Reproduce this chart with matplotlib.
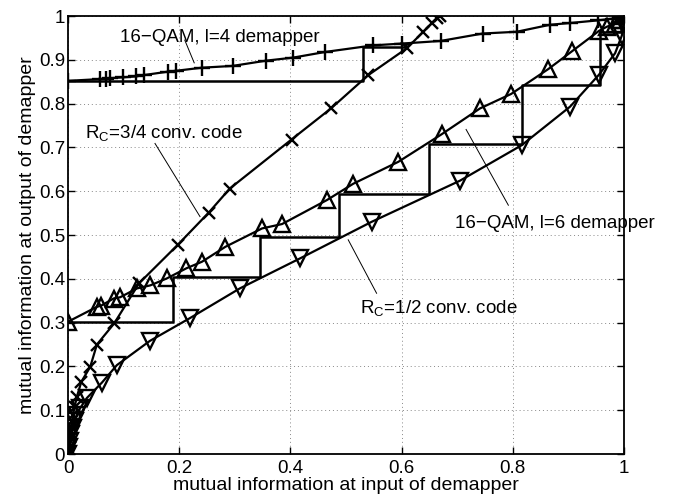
import matplotlib
matplotlib.use("Agg")
import matplotlib.pyplot as plt

plt.rcParams['font.family'] = ['Liberation Sans', 'DejaVu Sans']
plt.rcParams['mathtext.fontset'] = 'custom'
plt.rcParams['mathtext.rm'] = 'Liberation Sans'

# 16-QAM, l=4 demapper (+)
l4_x = [0, 0.058, 0.068, 0.076, 0.099, 0.122, 0.136, 0.180, 0.195, 0.241, 0.296,
        0.356, 0.405, 0.463, 0.549, 0.600, 0.670, 0.746, 0.807, 0.867, 0.903,
        0.953, 0.980, 0.993, 1.0]
l4_y = [0.852, 0.856, 0.857, 0.858, 0.860, 0.862, 0.865, 0.873, 0.875, 0.882, 0.886,
        0.898, 0.905, 0.918, 0.933, 0.937, 0.943, 0.960, 0.964, 0.980, 0.984,
        0.990, 0.994, 0.997, 1.0]

# R_C=3/4 conv. code (x), axes swapped
c34_x = [0, 0.001, 0.002, 0.003, 0.004, 0.005, 0.007, 0.009, 0.012, 0.016, 0.024,
         0.040, 0.052, 0.083, 0.128, 0.197, 0.253, 0.291, 0.402, 0.473, 0.540,
         0.609, 0.639, 0.654, 0.664, 0.669]
c34_y = [0, 0.012, 0.025, 0.038, 0.050, 0.062, 0.075, 0.090, 0.108, 0.131, 0.165,
         0.199, 0.250, 0.298, 0.390, 0.477, 0.551, 0.606, 0.718, 0.789, 0.865,
         0.926, 0.964, 0.983, 0.995, 1.0]

# 16-QAM, l=6 demapper (triangle up)
l6_x = [0, 0.052, 0.060, 0.082, 0.094, 0.124, 0.148, 0.178, 0.213, 0.241, 0.283,
        0.349, 0.385, 0.466, 0.513, 0.594, 0.672, 0.741, 0.797, 0.864, 0.907,
        0.955, 0.970, 0.984, 0.993, 1.0]
l6_y = [0.302, 0.336, 0.339, 0.355, 0.358, 0.378, 0.385, 0.401, 0.424, 0.439, 0.473,
        0.515, 0.525, 0.580, 0.617, 0.667, 0.730, 0.789, 0.822, 0.879, 0.920,
        0.966, 0.976, 0.982, 0.992, 1.0]

# R_C=1/2 conv. code (triangle down), axes swapped
c12_x = [0, 0.002, 0.004, 0.006, 0.009, 0.012, 0.016, 0.022, 0.034, 0.061, 0.088,
         0.147, 0.219, 0.309, 0.418, 0.546, 0.705, 0.816, 0.903, 0.955, 0.984,
         0.996, 1.0, 1.0]
c12_y = [0, 0.015, 0.030, 0.045, 0.060, 0.075, 0.090, 0.105, 0.128, 0.163, 0.203,
         0.258, 0.310, 0.378, 0.447, 0.530, 0.624, 0.705, 0.793, 0.866, 0.915,
         0.955, 0.985, 1.0]

# decoding trajectories
traj4_x = [0, 0.530, 0.530, 0.608, 0.608]
traj4_y = [0.852, 0.852, 0.929, 0.929, 0.934]
traj6_x = [0, 0.188, 0.188, 0.345, 0.345, 0.488, 0.488, 0.650, 0.650, 0.817, 0.817,
           0.957, 0.957, 0.995, 0.995, 1.0, 1.0]
traj6_y = [0.302, 0.302, 0.405, 0.405, 0.495, 0.495, 0.593, 0.593, 0.707, 0.707, 0.842,
           0.842, 0.964, 0.964, 0.990, 0.990, 1.0]

x_ticks = [0, 0.2, 0.4, 0.6, 0.8, 1]
x_labels = ['0', '0.2', '0.4', '0.6', '0.8', '1']
y_ticks = [0, 0.1, 0.2, 0.3, 0.4, 0.5, 0.6, 0.7, 0.8, 0.9, 1]
y_labels = ['0', '0.1', '0.2', '0.3', '0.4', '0.5', '0.6', '0.7', '0.8', '0.9', '1']

fig = plt.figure(figsize=(6.83, 4.98), dpi=100)
ax = fig.add_axes([68 / 683, 44 / 498, 556 / 683, 438 / 498])

lw = 1.6
ax.plot(l4_x, l4_y, 'k-', marker='+', ms=11, mew=1.7, lw=lw)
ax.plot(c34_x, c34_y, 'k-', marker='x', ms=9, mew=1.7, lw=lw)
ax.plot(l6_x, l6_y, 'k-', marker='^', ms=11.5, mew=1.7, mfc='none', lw=lw)
ax.plot(c12_x, c12_y, 'k-', marker='v', ms=11.5, mew=1.7, mfc='none', lw=lw)
ax.plot(traj4_x, traj4_y, 'k-', lw=1.8)
ax.plot(traj6_x, traj6_y, 'k-', lw=1.8)

ax.set_xlim(0, 1)
ax.set_ylim(0, 1)
ax.set_xticks(x_ticks)
ax.set_xticklabels(x_labels)
ax.set_yticks(y_ticks)
ax.set_yticklabels(y_labels)
ax.tick_params(direction='in', length=5, width=1, labelsize=13.5, top=True, right=True)
ax.tick_params(axis='x', pad=4)
ax.tick_params(axis='y', pad=2)
for s in ax.spines.values():
    s.set_linewidth(1.3)
ax.grid(True, color='#888888', linestyle=(0, (1, 3)), linewidth=0.7)

ax.set_xlabel('mutual information at input of demapper', fontsize=14, labelpad=0)
ax.set_ylabel('mutual information at output of demapper', fontsize=14, labelpad=2)

# annotations
fs = 13.5
ax.text(0.0935, 0.941, '16\u2212QAM, l=4 demapper', fontsize=fs, va='baseline')
ax.plot([0.210, 0.227], [0.945, 0.893], 'k-', lw=0.7)
ax.text(0.0306, 0.721, r'$\mathregular{R_C}$=3/4 conv. code', fontsize=fs, va='baseline')
ax.plot([0.1565, 0.2374], [0.709, 0.542], 'k-', lw=0.7)
ax.text(0.696, 0.515, '16\u2212QAM, l=6 demapper', fontsize=fs, va='baseline')
ax.plot([0.716, 0.792], [0.741, 0.568], 'k-', lw=0.7)
ax.text(0.525, 0.321, r'$\mathregular{R_C}$=1/2 conv. code', fontsize=fs, va='baseline')
ax.plot([0.504, 0.555], [0.489, 0.367], 'k-', lw=0.7)

fig.savefig('out.png', dpi=100)
